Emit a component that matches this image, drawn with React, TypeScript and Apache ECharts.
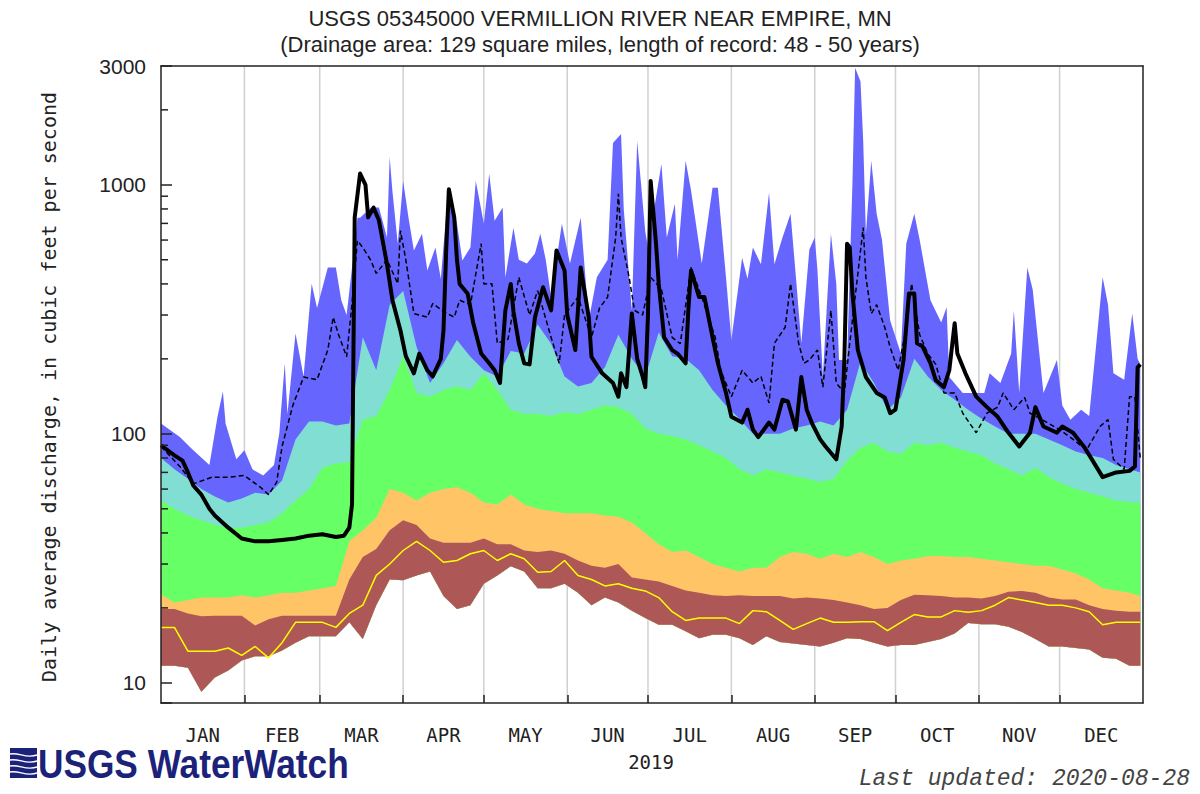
import React, { useEffect, useRef } from 'react';
import * as echarts from 'echarts';

const TITLE = 'USGS 05345000 VERMILLION RIVER NEAR EMPIRE, MN';
const SUBTITLE = '(Drainage area: 129 square miles, length of record: 48 - 50 years)';
const Y_NAME = 'Daily average discharge, in cubic feet per second';
const YEAR_LABEL = '2019';
const UPDATED = 'Last updated: 2020-08-28';
const LOGO_TEXT = 'USGS WaterWatch';

const Y_MIN = 8.3;
const Y_MAX = 3000;

const monthStarts = [0, 31, 59, 90, 120, 151, 181, 212, 243, 273, 304, 334, 365];
const monthLabels = ['JAN', 'FEB', 'MAR', 'APR', 'MAY', 'JUN', 'JUL', 'AUG', 'SEP', 'OCT', 'NOV', 'DEC'];
const yTickLabels = [10, 100, 1000, 3000];
const yMinorTicks = [20, 30, 40, 50, 60, 70, 80, 90, 200, 300, 400, 500, 600, 700, 800, 900, 2000];

// percentile bands, day of year (0 = Jan 1)
const gridDays = [
  0, 5, 10, 15, 20, 25, 30, 35, 40, 45,
  50, 55, 60, 65, 70, 75, 80, 85, 90, 95,
  100, 105, 110, 115, 120, 125, 130, 135, 140, 145,
  150, 155, 160, 165, 170, 175, 180, 185, 190, 195,
  200, 205, 210, 215, 220, 225, 230, 235, 240, 245,
  250, 255, 260, 265, 270, 275, 280, 285, 290, 295,
  300, 305, 310, 315, 320, 325, 330, 335, 340, 345,
  350, 355, 360, 364,
];
const pct90 = [
  80, 72, 66, 60, 56, 53, 55, 58, 57, 65,
  95, 112, 112, 108, 110, 244, 180, 330, 375, 223,
  160, 192, 238, 204, 180, 170, 215, 210, 275, 230,
  170, 155, 160, 185, 250, 200, 170, 255, 205, 200,
  180, 150, 130, 115, 100, 100, 100, 105, 108, 112,
  108, 125, 195, 160, 125, 140, 200, 170, 150, 137,
  125, 115, 107, 100, 100, 100, 95, 90, 85, 82,
  80, 75, 72, 70,
];
const pct75 = [
  54, 50, 47, 45, 43, 42, 42, 43, 44, 48,
  54, 60, 73, 76, 77, 114, 118, 150, 205, 146,
  141, 150, 155, 150, 175, 150, 125, 120, 120, 118,
  122, 120, 125, 130, 128, 120, 105, 100, 98, 95,
  90, 85, 80, 72, 68, 72, 70, 68, 66, 64,
  66, 78, 88, 92, 85, 83, 92, 90, 92, 88,
  85, 82, 76, 72, 68, 73, 67, 63, 60, 58,
  56, 54, 53, 53,
];
const pct25 = [
  22.7, 21, 21.5, 22, 22, 22, 22.5, 22, 22.5, 23,
  23, 23.5, 24, 24.5, 37, 41, 46, 60, 58, 54,
  58, 60, 61, 58, 53, 52, 57, 52, 50, 49,
  48, 48, 48, 47, 46.5, 44, 40, 36, 33.5, 34,
  32, 30, 29, 28, 29, 29, 32, 33.5, 33, 31.5,
  33, 32, 33.5, 32, 30, 31, 31.5, 32.3, 32.3, 32,
  32, 31.5, 31, 30.5, 30, 29.5, 29.5, 28.5, 27.5, 26,
  24, 23.5, 23, 22.3,
];
const pct10 = [
  19.8, 19.8, 19, 18.5, 18.6, 18.6, 18.6, 17, 18, 18.6,
  18.6, 18.6, 18.6, 18.6, 26, 32, 34.5, 41, 45, 43,
  38, 36.5, 36.5, 36.5, 38, 36, 36, 34, 33.5, 34,
  33, 31, 29.5, 29, 30, 26.5, 26, 25.5, 24.5, 23.5,
  23, 22.5, 22.3, 22.5, 22.3, 22.3, 22.3, 21.8, 22, 21.8,
  21.5, 21, 20.5, 19.8, 20, 21.5, 22.6, 22.5, 22.3, 22,
  22, 21.8, 22.3, 23.2, 23.4, 23, 22, 21.6, 21.6, 20.5,
  19.8, 19.5, 19.3, 19.3,
];
const minFlow = [
  11.7, 11.7, 11.5, 9.2, 10.5, 11.2, 12.3, 12.8, 12.8, 13.5,
  14.5, 15.4, 15.4, 15.4, 17.5, 15, 20.5, 26, 25.8, 27,
  28, 22.3, 19.8, 20.5, 25, 27, 29.4, 28, 24, 24,
  25, 23, 20.5, 22, 21, 19.5, 18.2, 17.1, 17.1, 16.1,
  15.1, 15.6, 15.6, 15.1, 14.2, 15.4, 14.6, 14.4, 14.2, 14,
  14.5, 15.1, 15, 14.5, 14, 14.2, 14.2, 14.6, 15, 15.8,
  17.4, 17.2, 17.2, 16.8, 16, 15, 14, 14, 13.8, 13.6,
  12.6, 12.5, 11.7, 11.7,
];
const yellowFlow = [
  16.7, 16.7, 13.4, 13.4, 13.4, 13.8, 12.9, 14, 12.6, 14.5,
  17.5, 17.5, 17.5, 16.7, 19, 20.5, 27, 30, 34, 37,
  34, 30.5, 31, 33, 34, 31, 33, 31.5, 27.8, 28,
  31, 27, 26, 24.5, 25, 24, 23.4, 22, 19.3, 17.8,
  18.2, 18.2, 18.2, 17.3, 19.5, 19.3, 17.8, 16.4, 17.3, 18.2,
  17.5, 17.5, 17.6, 17.6, 16.2, 17.5, 18.8, 18.4, 18.4, 19.5,
  19.2, 19.5, 20.5, 22, 21.5, 21, 20.5, 20.5, 20, 19.3,
  17.1, 17.5, 17.5, 17.5,
];

// daily maximum of record
const maxDays = [
  0, 7, 12, 18, 21, 23, 24, 28, 31, 34, 38, 42, 44, 46, 47, 50, 53, 56, 58, 62,
  65, 67, 69, 71, 72, 73, 74, 78, 81, 84, 85, 86, 88, 90, 92, 94, 97, 99, 102, 104,
  106, 107, 110, 112, 115, 117, 120, 122, 124, 127, 128, 131, 133, 136, 139, 141, 143, 145, 149, 152,
  156, 159, 162, 166, 168, 171, 172, 175, 177, 180, 181, 186, 188, 191, 192, 195, 197, 201, 205, 207,
  210, 212, 216, 218, 220, 223, 226, 228, 231, 234, 236, 238, 241, 243, 244, 246, 249, 251, 252, 255,
  257, 258, 260, 261, 262, 264, 266, 268, 271, 275, 277, 280, 282, 286, 290, 292, 293, 298, 306, 308,
  312, 316, 317, 319, 322, 324, 328, 333, 335, 338, 342, 345, 348, 350, 352, 354, 358, 361, 363, 364,
];
const maxFlow = [
  110, 97, 86, 75, 117, 148, 110, 79, 86, 72, 68, 75, 101, 192, 120, 253, 170, 401, 320, 466,
  466, 344, 300, 466, 560, 737, 737, 810, 810, 614, 1294, 946, 580, 1037, 737, 545, 636, 453, 560, 420,
  765, 964, 700, 497, 560, 1037, 700, 1107, 718, 810, 425, 673, 500, 483, 530, 636, 500, 354, 698, 483,
  738, 286, 425, 500, 1471, 1600, 800, 313, 1500, 650, 560, 1213, 614, 839, 500, 1248, 950, 483, 973, 973,
  425, 238, 510, 420, 560, 480, 929, 480, 614, 765, 425, 231, 550, 614, 453, 169, 636, 400, 198, 198,
  1010, 2950, 2600, 1500, 636, 1248, 765, 600, 286, 210, 580, 765, 600, 344, 280, 322, 169, 146, 146, 175,
  160, 210, 313, 146, 466, 380, 146, 198, 130, 114, 125, 118, 253, 425, 330, 175, 165, 304, 200, 190,
];

// 2019 daily discharge
const flowDays = [
  0, 3, 5, 8, 10, 12, 15, 18, 20, 25, 30, 35, 40, 45, 50, 55, 60, 65, 68, 70,
  71, 72, 74, 76, 77, 79, 81, 84, 86, 89, 91, 94, 96, 99, 101, 104, 105, 106, 107, 109,
  110, 111, 114, 116, 119, 122, 124, 126, 128, 130, 131, 133, 135, 137, 139, 142, 145, 147, 150, 151,
  154, 156, 159, 160, 164, 168, 170, 171, 173, 175, 177, 179, 180, 181, 182, 184, 185, 187, 190, 192,
  195, 196, 197, 200, 202, 205, 207, 210, 212, 216, 218, 220, 222, 226, 228, 231, 233, 236, 238, 240,
  242, 245, 247, 251, 253, 254, 255, 256, 257, 259, 262, 266, 269, 271, 273, 276, 278, 280, 281, 283,
  286, 288, 291, 293, 295, 296, 299, 303, 307, 311, 315, 319, 323, 325, 328, 333, 335, 339, 343, 346,
  350, 355, 360, 362, 363, 364,
];
const flow2019 = [
  90, 85, 82, 78, 70, 62, 57, 50, 47, 42, 38, 37, 37, 37.5, 38, 39, 39.5, 38.5, 39, 42,
  52, 740, 1110, 1000, 740, 810, 720, 480, 345, 260, 205, 175, 210, 180, 170, 200, 260, 545, 960, 740,
  500, 400, 365, 280, 210, 192, 180, 160, 313, 400, 310, 231, 192, 190, 294, 388, 313, 545, 453, 300,
  217, 466, 294, 204, 175, 160, 141, 175, 154, 304, 200, 170, 154, 300, 1037, 580, 401, 244, 217, 210,
  192, 313, 453, 354, 354, 244, 192, 146, 117, 111, 125, 104, 97, 111, 104, 137, 135, 104, 169, 125,
  110, 95, 89, 79, 107, 198, 580, 560, 366, 217, 169, 146, 140, 121, 125, 198, 366, 366, 231, 225,
  192, 164, 154, 180, 278, 210, 175, 141, 128, 117, 101, 89, 101, 128, 107, 101, 107, 101, 89, 79,
  67, 70, 71, 74, 185, 190,
];

// dashed line (long-term daily mean)
const meanDays = [
  0, 7, 12, 19, 25, 31, 37, 40, 43, 45, 49, 53, 58, 62, 64, 66, 69, 71, 73, 75,
  78, 80, 84, 88, 89, 91, 94, 99, 101, 105, 109, 111, 115, 119, 120, 123, 125, 129, 133, 137,
  140, 145, 148, 150, 155, 160, 163, 166, 169, 170, 171, 174, 176, 179, 182, 186, 190, 193, 197, 201,
  206, 208, 212, 216, 220, 223, 226, 228, 232, 234, 237, 239, 241, 244, 246, 249, 251, 254, 256, 261,
  262, 264, 266, 269, 271, 274, 277, 279, 282, 285, 288, 291, 295, 298, 303, 307, 311, 313, 317, 321,
  323, 327, 330, 334, 339, 344, 349, 352, 354, 358, 360, 362, 364,
];
const meanFlow = [
  89, 74, 63, 67, 67, 68, 61, 57, 64, 89, 130, 169, 165, 217, 294, 250, 204, 334, 597, 560,
  497, 441, 500, 401, 654, 500, 304, 294, 334, 310, 294, 344, 330, 580, 400, 401, 231, 240, 425, 300,
  376, 244, 192, 300, 354, 244, 320, 354, 614, 920, 614, 425, 313, 300, 425, 380, 244, 230, 466, 354,
  244, 180, 141, 180, 160, 170, 133, 231, 268, 401, 231, 192, 198, 217, 154, 313, 160, 146, 231, 673,
  425, 304, 330, 268, 223, 180, 268, 401, 250, 210, 190, 146, 146, 121, 101, 121, 128, 146, 125, 140,
  121, 115, 110, 104, 95, 86, 107, 114, 79, 72, 141, 141, 79,
];

const COLORS = {
  max: '#6666ff',
  p90: '#80dfd2',
  p75: '#66ff66',
  p25: '#ffc466',
  p10: '#ad5757',
  yellow: '#ffff00',
  grid: '#d0d0d0',
  axis: '#222222',
  navy: '#1b2279',
};

const pairs = (days: number[], vals: number[]) => days.map((d, i) => [d, vals[i]]);

function bandSeries(name: string, color: string, upDays: number[], upVals: number[], z: number) {
  return {
    type: 'custom',
    name,
    coordinateSystem: 'cartesian2d',
    silent: true,
    z,
    data: [[upDays[0], upVals[0]]],
    renderItem: (_params: any, api: any) => {
      const pts: number[][] = [];
      for (let i = 0; i < upDays.length; i++) pts.push(api.coord([upDays[i], upVals[i]]));
      for (let i = gridDays.length - 1; i >= 0; i--) pts.push(api.coord([gridDays[i], minFlow[i]]));
      return { type: 'polygon', shape: { points: pts }, style: { fill: color } };
    },
  };
}

function buildOption() {
  const innerStarts = monthStarts.slice(1, -1);
  const mids = monthLabels.map((_, i) => (monthStarts[i] + monthStarts[i + 1]) / 2);
  const labelFor = (v: number) => {
    const i = mids.findIndex((m) => Math.abs(m - v) < 0.01);
    return i >= 0 ? monthLabels[i] : '';
  };
  const axisLineStyle = { color: COLORS.axis, width: 1.5 };

  return {
    animation: false,
    backgroundColor: '#ffffff',
    grid: { left: 161, top: 66, width: 982, height: 637, outerBoundsMode: 'none', containLabel: false },
    xAxis: [
      {
        type: 'value', min: 0, max: 365, position: 'bottom', z: 20,
        axisLine: { show: true, onZero: false, lineStyle: axisLineStyle },
        axisTick: { show: true, inside: true, length: 8, customValues: innerStarts, lineStyle: axisLineStyle },
        axisLabel: {
          show: true, customValues: mids, formatter: (v: number) => labelFor(v), margin: 22,
          fontFamily: 'DejaVu Sans Mono', fontSize: 19, color: '#222',
        },
        splitLine: { show: false },
      },
      {
        type: 'value', min: 0, max: 365, position: 'top', z: 20,
        axisLine: { show: true, onZero: false, lineStyle: axisLineStyle },
        axisTick: { show: false }, axisLabel: { show: false }, splitLine: { show: false },
      },
    ],
    yAxis: [
      {
        type: 'log', logBase: 10, min: Y_MIN, max: Y_MAX, position: 'left', z: 20,
        axisLine: { show: true, onZero: false, lineStyle: axisLineStyle },
        axisTick: { show: true, inside: true, length: 11, lineStyle: axisLineStyle },
        axisLabel: {
          show: true, margin: 15, fontFamily: 'Liberation Sans', fontSize: 21, color: '#222',
          formatter: (v: number) => {
            const r = Math.round(v);
            return yTickLabels.includes(r) ? String(r) : '';
          },
        },
        splitLine: { show: false }, minorTick: { show: false },
      },
      {
        type: 'log', logBase: 10, min: Y_MIN, max: Y_MAX, position: 'right', z: 20,
        axisLine: { show: true, onZero: false, lineStyle: axisLineStyle },
        axisTick: { show: false }, axisLabel: { show: false }, splitLine: { show: false },
      },
    ],
    series: [
      {
        type: 'custom', name: 'monthGrid', coordinateSystem: 'cartesian2d', silent: true, z: 1,
        data: innerStarts.map((d) => [d, Y_MIN]),
        renderItem: (_p: any, api: any) => {
          const d = api.value(0);
          const a = api.coord([d, Y_MIN]);
          const b = api.coord([d, Y_MAX]);
          return { type: 'line', shape: { x1: a[0], y1: a[1], x2: b[0], y2: b[1] }, style: { stroke: COLORS.grid, lineWidth: 1.5 } };
        },
      },
      bandSeries('Max', COLORS.max, maxDays, maxFlow, 2),
      bandSeries('90th percentile', COLORS.p90, gridDays, pct90, 3),
      bandSeries('75th percentile', COLORS.p75, gridDays, pct75, 4),
      bandSeries('25th percentile', COLORS.p25, gridDays, pct25, 5),
      bandSeries('10th percentile', COLORS.p10, gridDays, pct10, 6),
      {
        type: 'line', name: 'yellow', data: pairs(gridDays, yellowFlow), symbol: 'none', silent: true, z: 7,
        lineStyle: { color: COLORS.yellow, width: 1.5 },
      },
      {
        type: 'line', name: 'Mean', data: pairs(meanDays, meanFlow), symbol: 'none', silent: true, z: 8,
        lineStyle: { color: '#000', width: 1.5, type: [5, 3] },
      },
      {
        type: 'line', name: 'Flow', data: pairs(flowDays, flow2019), symbol: 'none', silent: true, z: 9,
        lineStyle: { color: '#000', width: 4, join: 'round' },
      },
      {
        type: 'custom', name: 'minorTicks', coordinateSystem: 'cartesian2d', silent: true, z: 21,
        data: yMinorTicks.map((v) => [0, v]),
        renderItem: (_p: any, api: any) => {
          const p = api.coord([0, api.value(1)]);
          return { type: 'line', shape: { x1: p[0], y1: p[1], x2: p[0] + 7, y2: p[1] }, style: { stroke: COLORS.axis, lineWidth: 1.5 } };
        },
      },
    ],
    graphic: [
      { type: 'text', x: 600, y: 18, style: { text: TITLE, fontFamily: 'Liberation Sans', fontSize: 22, fill: '#222', align: 'center', verticalAlign: 'middle' } },
      { type: 'text', x: 600, y: 44, style: { text: SUBTITLE, fontFamily: 'Liberation Sans', fontSize: 22, fill: '#222', align: 'center', verticalAlign: 'middle' } },
      { type: 'text', x: 49, y: 387, rotation: Math.PI / 2, style: { text: Y_NAME, fontFamily: 'DejaVu Sans Mono', fontSize: 20, fill: '#222', align: 'center', verticalAlign: 'middle' } },
      { type: 'text', x: 651, y: 762, style: { text: YEAR_LABEL, fontFamily: 'DejaVu Sans Mono', fontSize: 19, fill: '#222', align: 'center', verticalAlign: 'middle' } },
      { type: 'text', x: 1190, y: 779, style: { text: UPDATED, fontFamily: 'Liberation Mono', fontStyle: 'italic', fontSize: 23, fill: '#444', align: 'right', verticalAlign: 'middle' } },
      {
        type: 'group', x: 10, y: 748,
        children: [
          { type: 'rect', shape: { x: 0, y: 0, width: 27, height: 30 }, style: { fill: COLORS.navy } },
          { type: 'bezierCurve', shape: { x1: 0, y1: 6, cpx1: 9, cpy1: 4, cpx2: 16, cpy2: 11, x2: 27, y2: 7 }, style: { stroke: '#fff', lineWidth: 1.4, fill: 'none' } },
          { type: 'bezierCurve', shape: { x1: 0, y1: 12, cpx1: 9, cpy1: 10, cpx2: 16, cpy2: 17, x2: 27, y2: 13 }, style: { stroke: '#fff', lineWidth: 1.4, fill: 'none' } },
          { type: 'bezierCurve', shape: { x1: 0, y1: 18, cpx1: 9, cpy1: 16, cpx2: 16, cpy2: 23, x2: 27, y2: 19 }, style: { stroke: '#fff', lineWidth: 1.4, fill: 'none' } },
          { type: 'bezierCurve', shape: { x1: 0, y1: 24, cpx1: 9, cpy1: 22, cpx2: 16, cpy2: 29, x2: 27, y2: 25 }, style: { stroke: '#fff', lineWidth: 1.4, fill: 'none' } },
        ],
      },
      { type: 'text', x: 38, y: 764, scaleX: 0.86, style: { text: LOGO_TEXT, fontFamily: 'Liberation Sans', fontWeight: 'bold', fontSize: 41, fill: COLORS.navy, align: 'left', verticalAlign: 'middle' } },
    ],
  };
}

export default function App() {
  const ref = useRef<HTMLDivElement>(null);
  useEffect(() => {
    if (!ref.current) return;
    const chart = echarts.init(ref.current, null, { renderer: 'svg', width: 1200, height: 794 });
    chart.setOption(buildOption() as any);
    return () => chart.dispose();
  }, []);
  return (
    <div
      ref={ref}
      style={{ position: 'absolute', left: 0, top: 0, width: 1200, height: 794, background: '#ffffff' }}
    />
  );
}
